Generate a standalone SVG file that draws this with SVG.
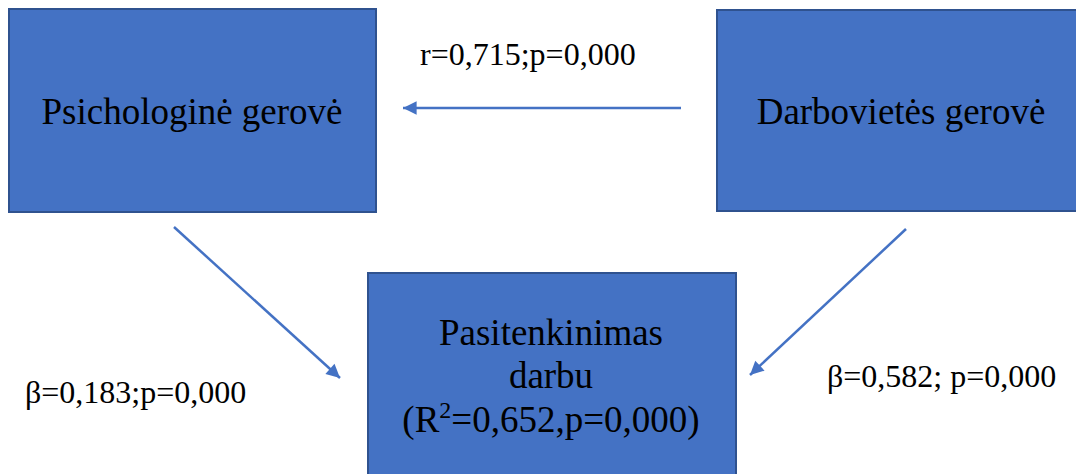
<svg xmlns="http://www.w3.org/2000/svg" width="1076" height="474" viewBox="0 0 1076 474">
<style>
.box{fill:#4472c4;stroke:#2f528f;stroke-width:2}
.t{font-family:"Liberation Serif","Times New Roman",serif;font-size:37px;fill:#000;text-anchor:middle}
.l{font-family:"Liberation Serif","Times New Roman",serif;font-size:32px;fill:#000}
.c{stroke:#4472c4;stroke-width:2.5;fill:none;marker-end:url(#ah)}
</style>
<defs>
<marker id="ah" viewBox="0 0 10 10" refX="10" refY="5" markerWidth="8" markerHeight="8" markerUnits="userSpaceOnUse" orient="auto" style="overflow:visible">
<path d="M0,0 L10,5 L0,10 z" fill="#4472c4" transform="scale(1.7)" transform-origin="10 5"/>
</marker>
</defs>
<rect width="1076" height="474" fill="#fff"/>
<g id="psichologine">
<rect class="box" x="9" y="9" width="367" height="203"/>
<text class="t" x="192" y="124">Psichologinė gerovė</text>
</g>
<g id="darbovietes">
<rect class="box" x="717" y="10" width="365" height="201"/>
<text class="t" x="901" y="124">Darbovietės gerovė</text>
</g>
<g id="pasitenkinimas">
<rect class="box" x="368" y="273" width="368" height="210"/>
<text class="t" x="551" y="345">Pasitenkinimas</text>
<text class="t" x="551" y="388">darbu</text>
<text class="t" x="551" y="432">(R<tspan font-size="24" dy="-14">2</tspan><tspan dy="14">=0,652,p=0,000)</tspan></text>
</g>
<g id="connectors">
<line class="c" x1="681" y1="108" x2="403" y2="108"/>
<line class="c" x1="174" y1="227" x2="340" y2="378"/>
<line class="c" x1="906" y1="229" x2="750" y2="375"/>
</g>
<g id="labels">
<text class="l" x="420" y="65">r=0,715;p=0,000</text>
<text class="l" x="25" y="403">β=0,183;p=0,000</text>
<text class="l" x="827" y="387">β=0,582; p=0,000</text>
</g>
</svg>
